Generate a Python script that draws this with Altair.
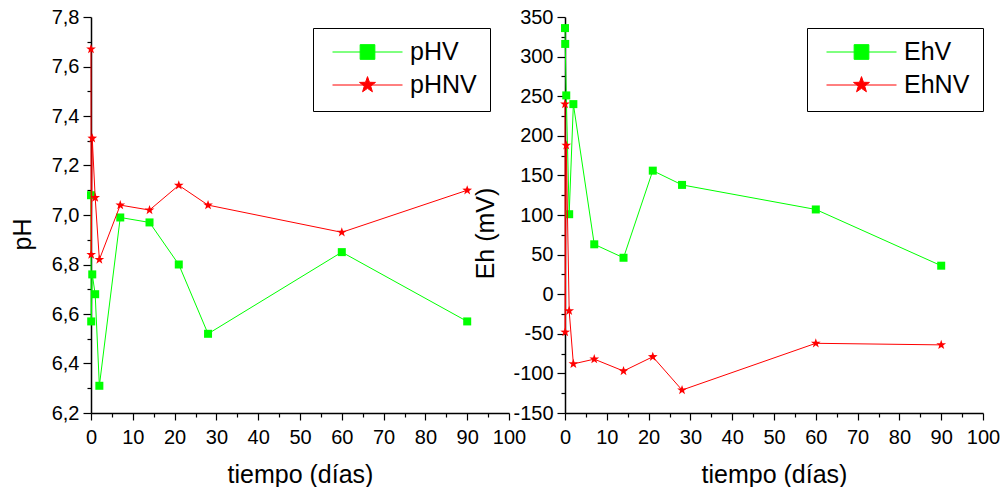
import math
import altair as alt
import pandas as pd

# ---- data ----
tiempo = [0, 0.05, 0.3, 1, 2, 7, 14, 21, 28, 60, 90]
ph_v = [7.08, 6.57, 6.76, 6.68, 6.31, 6.99, 6.97, 6.80, 6.52, 6.85, 6.57]
ph_nv = [7.67, 6.84, 7.31, 7.07, 6.82, 7.04, 7.02, 7.12, 7.04, 6.93, 7.10]
eh_v = [336, 316, 251, 101, 240, 63, 46, 156, 138, 107, 36]
eh_nv = [240, -48, 188, -21, -88, -82, -97, -79, -121, -62, -64]

series_ph = ["pHV", "pHNV"]
series_eh = ["EhV", "EhNV"]
colors = ["#00ff00", "#ff0000"]

x_ticks = list(range(0, 101, 5))
ph_ticks = [round(6.2 + 0.1 * i, 1) for i in range(17)]
eh_ticks = list(range(-150, 351, 25))

FONT = "Liberation Sans"


def star_pts(r_out, r_in=0.4):
    pts = []
    for k in range(10):
        ang = math.radians(-90 + 36 * k)
        r = r_out if k % 2 == 0 else r_out * r_in
        pts.append((r * math.cos(ang), r * math.sin(ang)))
    return pts


def path_from(pts):
    return "M" + "L".join(f"{x:.3f},{y:.3f}" for x, y in pts) + "Z"


STAR = path_from(star_pts(1.0))
LEG_STAR = "M-1,0L1,0" + path_from(star_pts(0.24))
q = 0.21
LEG_SQ = f"M-1,0L1,0M{-q},{-q}L{q},{-q}L{q},{q}L{-q},{q}Z"


def panel(vals_v, vals_nv, names, ydomain, yticks, major_test, ylabel_expr,
          ytitle, title_x, title_y, legend_x):
    dv = pd.DataFrame({"t": tiempo, "y": vals_v, "s": names[0]})
    dn = pd.DataFrame({"t": tiempo, "y": vals_nv, "s": names[1]})
    dall = pd.concat([dv, dn], ignore_index=True)

    xaxis = alt.Axis(
        values=x_ticks,
        labelExpr="datum.value % 10 == 0 ? '' + datum.value : ''",
        tickSize={"condition": {"test": "datum.value % 10 == 0", "value": 7}, "value": 4},
        labelPadding=7,
        titleBaseline="alphabetic",
        titleY=69,
    )
    yaxis = alt.Axis(
        values=yticks,
        labelExpr=ylabel_expr,
        tickSize={"condition": {"test": major_test, "value": 8}, "value": 4},
        labelPadding=4,
        titleBaseline="alphabetic",
        titleX=title_x,
        titleY=title_y,
    )
    xenc = alt.X("t:Q", scale=alt.Scale(domain=[0, 100], nice=False, zero=False),
                 axis=xaxis, title="tiempo (días)")
    yenc = alt.Y("y:Q", scale=alt.Scale(domain=ydomain, nice=False, zero=False),
                 axis=yaxis, title=ytitle)

    line_v = alt.Chart(dv).mark_line(color=colors[0], strokeWidth=1).encode(x=xenc, y=yenc)
    pts_v = alt.Chart(dv).mark_square(color=colors[0], size=64, opacity=1).encode(x=xenc, y=yenc)
    line_n = alt.Chart(dn).mark_line(color=colors[1], strokeWidth=1).encode(x=xenc, y=yenc)
    pts_n = alt.Chart(dn).mark_point(shape=STAR, filled=True, color=colors[1],
                                     size=104, opacity=1).encode(x=xenc, y=yenc)

    leg = alt.Legend(
        title=None, orient="none", legendX=legend_x, legendY=11,
        strokeColor="black", fillColor="white", padding=13,
        symbolSize=4900, symbolStrokeWidth=1, symbolOpacity=1,
        clipHeight=22, rowPadding=8, symbolOffset=6, labelOffset=7,
        labelFont=FONT, labelFontSize=25, labelColor="black",
        labelExpr="datum.label + '     '",
    )
    legend_layer = alt.Chart(dall).mark_point(filled=True, opacity=0).encode(
        x=xenc, y=yenc,
        fill=alt.Fill("s:N", scale=alt.Scale(domain=names, range=colors), legend=leg),
        stroke=alt.Stroke("s:N", scale=alt.Scale(domain=names, range=colors), legend=leg),
        shape=alt.Shape("s:N", scale=alt.Scale(domain=names, range=[LEG_SQ, LEG_STAR]), legend=leg),
    )
    return alt.layer(line_v, pts_v, line_n, pts_n, legend_layer).properties(width=418, height=396)


left = panel(ph_v, ph_nv, series_ph, [6.2, 7.8], ph_ticks,
             "round(datum.value * 10) % 2 == 0",
             "round(datum.value * 10) % 2 == 0 ? replace(format(datum.value, '.1f'), '.', ',') : ''",
             "pH", -61, 217, 222)
right = panel(eh_v, eh_nv, series_eh, [-150, 350], eh_ticks,
              "datum.value % 50 == 0",
              "datum.value % 50 == 0 ? '' + datum.value : ''",
              "Eh (mV)", -72, 216, 242)

chart = alt.hconcat(left, right, spacing=56).properties(
    bounds="flush",
    padding={"left": 10, "top": 7, "right": 0, "bottom": 0},
    background="white",
).resolve_scale(
    fill="independent", stroke="independent", shape="independent"
).configure_view(stroke=None).configure_axis(
    grid=False, domainColor="black", domainWidth=1.5, tickColor="black", tickWidth=1.2,
    labelFont=FONT, labelFontSize=20, labelColor="black", labelFlush=False, labelOverlap=False,
    titleFont=FONT, titleFontSize=25, titleFontWeight="normal", titleColor="black",
)

chart.save("out.html", embed_options={"renderer": "svg", "actions": False})
